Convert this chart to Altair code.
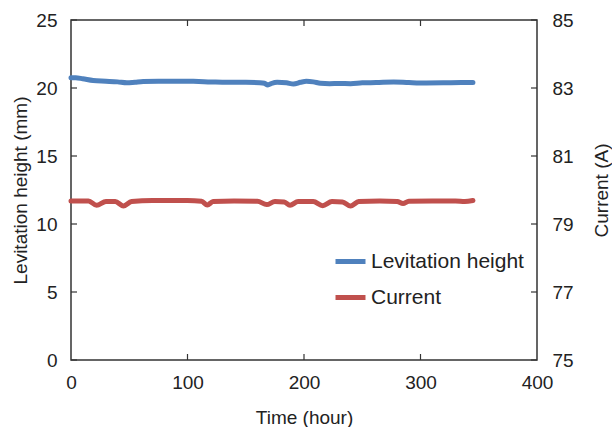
import altair as alt
import pandas as pd

# ---- data ----
height_time = [0, 4, 10, 19, 30, 40, 48, 55, 62, 75, 90, 105, 120, 134, 150, 162, 166, 169, 172,
               177, 185, 191, 197, 202, 208, 214, 222, 230, 240, 250, 262, 277, 290, 305, 320, 335, 345]
height_vals = [20.75, 20.75, 20.68, 20.55, 20.5, 20.45, 20.38, 20.43, 20.48, 20.5, 20.5, 20.49, 20.45,
               20.42, 20.42, 20.39, 20.35, 20.22, 20.33, 20.42, 20.38, 20.3, 20.42, 20.49, 20.45, 20.35,
               20.32, 20.33, 20.32, 20.38, 20.4, 20.44, 20.4, 20.37, 20.38, 20.4, 20.4]

current_time = [0, 15, 22, 30, 38, 45, 52, 70, 100, 112, 117, 122, 140, 160, 168, 175, 183, 188, 195,
                208, 216, 224, 233, 240, 247, 265, 280, 285, 290, 310, 330, 338, 345]
current_vals = [79.68, 79.68, 79.55, 79.66, 79.66, 79.53, 79.66, 79.69, 79.69, 79.67, 79.56, 79.66,
                79.68, 79.67, 79.57, 79.66, 79.65, 79.55, 79.66, 79.66, 79.54, 79.66, 79.65, 79.53,
                79.66, 79.68, 79.66, 79.6, 79.67, 79.68, 79.68, 79.66, 79.69]

x_ticks = [0, 100, 200, 300, 400]
x_inner_ticks = [100, 200, 300]
left_ticks = [0, 5, 10, 15, 20, 25]
right_ticks = [75, 77, 79, 81, 83, 85]
series_names = ["Levitation height", "Current"]
series_colors = ["#4F81BD", "#C0504D"]

W, H = 466, 340
FONT = "Liberation Sans"
AXIS_COLOR = "#333333"

df_h = pd.DataFrame({"time": height_time, "height": height_vals, "series": series_names[0]})
df_c = pd.DataFrame({"time": current_time, "current": current_vals, "series": series_names[1]})
df_xt = pd.DataFrame({"time": x_inner_ticks})
df_yt = pd.DataFrame({"height": left_ticks})

color = alt.Color(
    "series:N",
    scale=alt.Scale(domain=series_names, range=series_colors),
    legend=alt.Legend(
        title=None, orient="none", legendX=262, legendY=224,
        symbolType="stroke", symbolStrokeWidth=5, symbolSize=900,
        labelFontSize=21, labelFont=FONT, labelColor="#222222",
        rowPadding=8, labelOffset=3,
    ),
)

x_axis = alt.Axis(values=x_ticks, title="Time (hour)", ticks=False, domain=False, grid=False,
                  labelPadding=13, titlePadding=16, format="d", labelFlush=False,
                  labelOverlap=False)
x_scale = alt.Scale(domain=[0, 400], nice=False)
y_axis = alt.Axis(values=left_ticks, title="Levitation height (mm)", ticks=False,
                  domain=False, grid=False, labelPadding=14, titlePadding=5,
                  labelFlush=False, labelOverlap=False)
y_scale = alt.Scale(domain=[0, 25], nice=False)

blue = alt.Chart(df_h).mark_line(strokeWidth=5, strokeCap="round", interpolate="monotone").encode(
    x=alt.X("time:Q", scale=x_scale, axis=x_axis),
    y=alt.Y("height:Q", scale=y_scale, axis=y_axis),
    color=color,
)

left_tick_l = alt.Chart(df_yt).mark_rule(color=AXIS_COLOR, strokeWidth=1.2).encode(
    y=alt.Y("height:Q", scale=y_scale, axis=y_axis),
    x=alt.value(0), x2=alt.value(6),
)
left_tick_r = alt.Chart(df_yt).mark_rule(color=AXIS_COLOR, strokeWidth=1.2).encode(
    y=alt.Y("height:Q", scale=y_scale, axis=y_axis),
    x=alt.value(W), x2=alt.value(W - 6),
)
x_tick_b = alt.Chart(df_xt).mark_rule(color=AXIS_COLOR, strokeWidth=1.2).encode(
    x=alt.X("time:Q", scale=x_scale, axis=x_axis),
    y=alt.value(H), y2=alt.value(H - 6),
)
x_tick_t = alt.Chart(df_xt).mark_rule(color=AXIS_COLOR, strokeWidth=1.2).encode(
    x=alt.X("time:Q", scale=x_scale, axis=x_axis),
    y=alt.value(0), y2=alt.value(6),
)

left_group = alt.layer(blue, left_tick_l, left_tick_r, x_tick_b, x_tick_t)

red = alt.Chart(df_c).mark_line(strokeWidth=5, strokeCap="round", interpolate="monotone").encode(
    x=alt.X("time:Q", scale=x_scale, axis=x_axis),
    y=alt.Y("current:Q", scale=alt.Scale(domain=[75, 85], nice=False),
            axis=alt.Axis(values=right_ticks, orient="right", title="Current (A)", titleAngle=270,
                          titleBaseline="top", labelFlush=False, labelOverlap=False,
                          ticks=False, domain=False, grid=False, labelPadding=15, titlePadding=19)),
    color=color,
)

chart = alt.layer(left_group, red).resolve_scale(
    y="independent"
).properties(
    width=W, height=H,
    autosize=alt.AutoSizeParams(type="none"),
    padding={"left": 71, "top": 20, "right": 612 - 71 - W, "bottom": 427 - 20 - H},
    background="white",
).configure_view(
    stroke=AXIS_COLOR, strokeWidth=1.5
).configure_axis(
    labelFont=FONT, titleFont=FONT, labelFontSize=19, titleFontSize=19,
    labelColor="#222222", titleColor="#222222", titleFontWeight="normal",
)

chart.save("out.html", embed_options={"renderer": "svg", "actions": False})
